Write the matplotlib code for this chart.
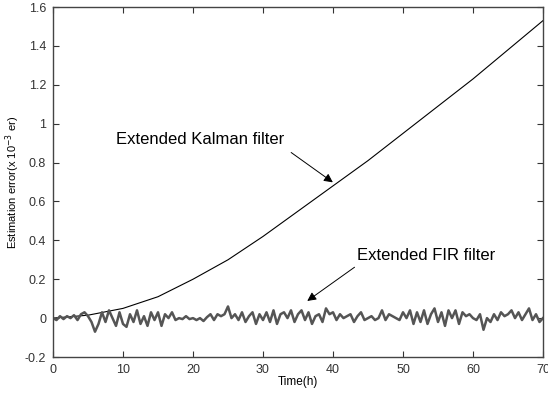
import numpy as np
import matplotlib
matplotlib.use("Agg")
from matplotlib import pyplot as plt

plt.rcParams['font.family'] = ['Liberation Sans', 'DejaVu Sans']

# Extended Kalman filter error (x 10^-3 er)
ekf_t = [0, 5, 10, 15, 20, 25, 30, 35, 40, 45, 50, 55, 60, 65, 70]
ekf_err = [0.0, 0.015, 0.05, 0.11, 0.2, 0.3, 0.42, 0.55, 0.68, 0.81,
           0.95, 1.09, 1.23, 1.38, 1.53]

# Extended FIR filter error, sampled every 0.5 h
fir_t = np.arange(0, 70.5, 0.5)
fir_err = [
    0.0, -0.01, 0.01, -0.005, 0.01, 0.0, 0.015, -0.01, 0.02, 0.03,
    0.01, -0.02, -0.07, -0.03, 0.03, -0.02, 0.04, 0.0, -0.04, 0.03,
    -0.03, -0.045, 0.02, -0.02, 0.04, -0.03, 0.01, -0.04, 0.03, -0.01,
    0.03, -0.04, 0.02, 0.0, 0.03, -0.01, 0.0, -0.005, 0.01, -0.005,
    0.0, -0.01, 0.0, -0.015, 0.005, 0.02, -0.01, 0.02, 0.01, 0.02,
    0.06, 0.0, 0.02, -0.01, 0.03, -0.02, 0.01, 0.03, -0.03, 0.02,
    -0.01, 0.03, -0.02, 0.04, -0.03, 0.02, 0.03, 0.0, 0.04, -0.02,
    0.02, 0.04, -0.01, 0.03, -0.03, 0.01, 0.02, -0.02, 0.05, 0.02,
    0.03, -0.01, 0.02, 0.0, 0.01, 0.02, -0.02, 0.01, 0.03, -0.01,
    0.0, 0.01, -0.01, 0.0, 0.04, -0.01, 0.02, 0.01, 0.0, -0.01,
    0.03, 0.0, 0.04, -0.03, 0.03, -0.02, 0.04, -0.03, 0.02, 0.05,
    -0.02, 0.03, -0.04, 0.04, 0.0, 0.04, -0.03, 0.03, 0.01, 0.02,
    0.0, -0.01, 0.02, -0.06, 0.0, -0.02, 0.02, -0.01, 0.03, 0.01,
    0.02, 0.04, 0.0, 0.03, -0.01, 0.02, 0.05, -0.01, 0.02, -0.02, 0.0,
]

xticks = [0, 10, 20, 30, 40, 50, 60, 70]
yticks = [-0.2, 0, 0.2, 0.4, 0.6, 0.8, 1, 1.2, 1.4, 1.6]
ytick_labels = ['-0.2', '0', '0.2', '0.4', '0.6', '0.8', '1', '1.2', '1.4', '1.6']

fig = plt.figure(figsize=(5.48, 3.97), dpi=100)
ax = fig.add_axes([53 / 548, 40 / 397, 490 / 548, 350 / 397])

ax.plot(ekf_t, ekf_err, color='black', lw=0.8)
ax.plot(fir_t, fir_err, color='#555555', lw=1.8)

ax.set_xlim(0, 70)
ax.set_ylim(-0.2, 1.6)
ax.set_xticks(xticks)
ax.set_yticks(yticks)
ax.set_yticklabels(ytick_labels)
ax.tick_params(direction='in', top=True, right=True, labelsize=9,
               length=4, colors='#333333', pad=5)
for s in ax.spines.values():
    s.set_color('#444444')
    s.set_linewidth(1.0)

ax.set_xlabel('Time(h)', fontsize=8.5, labelpad=0)
ax.set_ylabel('Estimation error(x 10$^{-3}$ er)', fontsize=8)
ax.yaxis.set_label_coords(-0.064, 0.5)

arrow = dict(arrowstyle='-|>', color='black', lw=0.7, mutation_scale=13)
ax.annotate('', xy=(40.3, 0.69), xytext=(33.7, 0.86), arrowprops=arrow)
ax.text(9.0, 0.92, 'Extended Kalman filter', fontsize=12, va='center')
ax.annotate('', xy=(36.0, 0.08), xytext=(43.4, 0.27), arrowprops=arrow)
ax.text(43.4, 0.32, 'Extended FIR filter', fontsize=12, va='center')

fig.savefig('out.png', dpi=100)
